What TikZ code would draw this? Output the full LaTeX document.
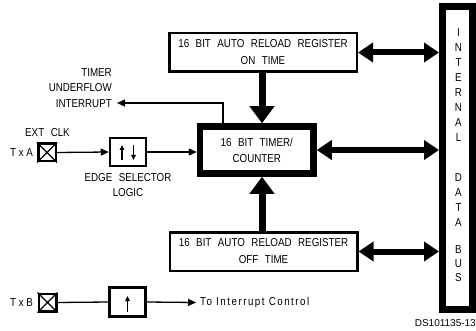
\documentclass[tikz,border=0pt]{standalone}
\usepackage{fontspec}
\setmainfont{Liberation Sans}[WordSpace=2.4, FakeStretch=0.85]
\newfontfamily\widefont{Liberation Sans}[LetterSpace=13, FakeStretch=0.85]
\newfontfamily\plainfont{Liberation Sans}[FakeStretch=0.85]
\newfontfamily\dsfont{Liberation Sans}
\usetikzlibrary{arrows.meta}
\begin{document}
\begin{tikzpicture}[x=1pt,y=-1pt,
  lbl/.style={font=\fontsize{11.5}{15.5}\selectfont, inner sep=0pt, align=center},
  regbox/.style={draw, line width=2.5pt, minimum width=187.5pt, minimum height=38.5pt, inner sep=0pt, align=center, font=\fontsize{11.5}{17}\selectfont},
  timerbox/.style={draw, line width=6.5pt, minimum width=113.5pt, minimum height=47pt, inner sep=0pt, align=center, font=\fontsize{11.5}{16}\selectfont},
  busbox/.style={draw, line width=7pt, minimum width=30pt, minimum height=303pt, inner sep=0pt},
  edgebox/.style={draw, line width=2.5pt, minimum width=36pt, minimum height=28pt, inner sep=0pt},
  pinbox/.style={draw, line width=2.5pt, minimum width=17.5pt, minimum height=17.5pt, inner sep=0pt},
  thinarrow/.style={line width=1.3pt, -{Triangle[length=8pt,width=7pt]}},
  thinline/.style={line width=1.3pt},
  tinyarrow/.style={line width=1.3pt, -{Triangle[length=5pt,width=4.5pt]}},
  busarrow/.style={line width=6pt, {Triangle[length=15pt,width=19pt]}-{Triangle[length=15pt,width=19pt]}},
  vertarrow/.style={line width=7pt, -{Triangle[length=17pt,width=24pt]}},
]
\useasboundingbox (0,0) rectangle (476,331);

% main blocks
\node[regbox] (regon) at (263,52.5) {16 BIT AUTO RELOAD REGISTER\\ON TIME};
\node[regbox] (regoff) at (263.5,251.5) {16 BIT AUTO RELOAD REGISTER\\OFF TIME};
\node[timerbox] (timer) at (256.75,150) {16 BIT TIMER/\\COUNTER};
\node[busbox] (bus) at (457.5,158) {};
\foreach \l/\yy [count=\i] in {I/33,N/48,T/63,E/78,R/93,N/108,A/123,L/138,D/178,A/193,T/208,A/223,B/250,U/264,S/278}
  \node[lbl] (busl\i) at (458.5,\yy) {\l};

% bus connections
\draw[busarrow] (regon.east) -- (regon.east -| bus.west);
\draw[busarrow] (timer.east) -- (timer.east -| bus.west);
\draw[busarrow] (regoff.east) -- (regoff.east -| bus.west);

% reload arrows
\coordinate (vx) at (262,0);
\draw[vertarrow] (regon.south -| vx) -- (timer.north -| vx);
\draw[vertarrow] (regoff.north -| vx) -- (timer.south -| vx);

% timer underflow interrupt
\node[lbl, align=right, anchor=east] (uflbl) at (112,88) {TIMER\\UNDERFLOW\\INTERRUPT};
\coordinate (ufcorner) at (223,103);
\coordinate (uftip) at (117,103);
\draw[thinarrow] (timer.north -| ufcorner) |- (uftip);

% TxA path
\node[pinbox] (pina) at (47,152.5) {};
\draw[line width=1.3pt] (pina.north west) -- (pina.south east) (pina.north east) -- (pina.south west);
\node[lbl] (extclk) at (47.5,133) {EXT CLK};
\node[lbl, font=\plainfont\fontsize{11.5}{14}\selectfont] (txa) at (21.5,153) {T x A};
\node[edgebox] (edgea) at (128,152) {};
\draw[tinyarrow] ([xshift=-6pt,yshift=-8pt]edgea.center) -- ([xshift=-6pt,yshift=7pt]edgea.center);
\draw[tinyarrow] ([xshift=5.5pt,yshift=7pt]edgea.center) -- ([xshift=5.5pt,yshift=-8pt]edgea.center);
\node[lbl, font=\fontsize{11.5}{15}\selectfont] (edgelbl) at (128,185.5) {EDGE SELECTOR\\LOGIC};
\draw[thinarrow] (pina.east) -- (edgea.west);
\draw[thinarrow] (edgea.east) -- (timer.west |- edgea.east);

% TxB path
\node[pinbox] (pinb) at (47.5,302.5) {};
\draw[line width=1.3pt] (pinb.north west) -- (pinb.south east) (pinb.north east) -- (pinb.south west);
\node[lbl, font=\plainfont\fontsize{11.5}{14}\selectfont] (txb) at (21.5,302.5) {T x B};
\node[edgebox, minimum height=29pt] (edgeb) at (127.5,302) {};
\draw[tinyarrow] ([yshift=-10pt]edgeb.center) -- ([yshift=6pt]edgeb.center);
\node[lbl, anchor=west, inner xsep=4pt, font=\widefont\fontsize{11.5}{14}\selectfont] (toint) at (196,302.5) {To Interrupt Control};
\draw[thinline] (pinb.east) -- (edgeb.west);
\draw[thinarrow] (edgeb.east) -- (toint.west);

% figure id
\node[anchor=east, inner sep=0pt, font=\dsfont\fontsize{10}{12}\selectfont] (dsid) at (476,323) {DS101135-13};
\end{tikzpicture}
\end{document}
